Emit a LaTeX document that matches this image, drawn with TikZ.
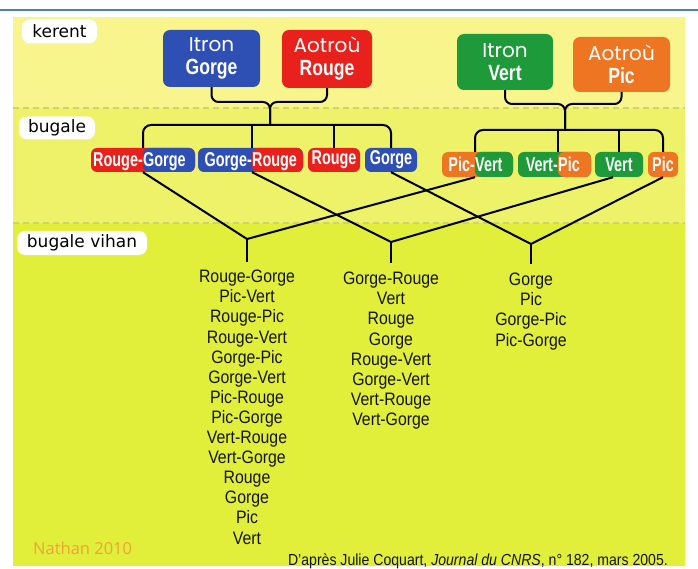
\documentclass[tikz,border=0pt]{standalone}
\usepackage{fontspec}
\setmainfont{Liberation Sans}
\newfontfamily\condfont[FakeStretch=0.88]{Liberation Sans}
\newfontfamily\condbold[FakeStretch=0.72]{Liberation Sans Bold}
\newfontfamily\parbold[FakeStretch=0.8]{Liberation Sans Bold}
\newfontfamily\labfont{DejaVu Sans}
\newfontfamily\geofont{Poppins}
\newfontfamily\credfont{Open Sans}
\definecolor{cblue}{HTML}{2E50B4}
\definecolor{cred}{HTML}{E8211C}
\definecolor{cgreen}{HTML}{1F9A3A}
\definecolor{corange}{HTML}{EE7522}
\definecolor{ztop}{HTML}{F7F58C}
\definecolor{zmid}{HTML}{EDF268}
\definecolor{zbot}{HTML}{E1EE3A}
\definecolor{zdash}{HTML}{CDD46A}
\definecolor{toprule}{HTML}{4A7EBE}
\definecolor{nathan}{HTML}{EFA23A}
\newcommand\PTop[1]{{\geofont\fontsize{20}{23}\selectfont #1}}
\newcommand\PBot[1]{{\parbold\fontsize{22}{23}\selectfont #1}}
\tikzset{
  conn/.style={line width=2pt, black},
  parentbox/.style={rounded corners=7pt, text=white, align=center, inner sep=0pt,
    font=\fontsize{22}{23}\selectfont},
  childbox/.style={rounded corners=6pt, inner sep=0pt, text=white,
    font=\condbold\fontsize{20}{20}\selectfont},
  ctext/.style={inner sep=0pt, text=white, font=\condbold\fontsize{20}{20}\selectfont},
  twotone/.style n args={3}{fill=#1, path picture={\fill[#2] ([xshift=#3]path picture bounding box.south west) rectangle (path picture bounding box.north east);}},
  zonelabel/.style={fill=white, rounded corners=8pt, inner sep=0pt, text=black,
    font=\labfont\fontsize{17}{20}\selectfont},
  listtext/.style={inner sep=0pt, align=center, text=black!92,
    font=\condfont\fontsize{18}{20.1}\selectfont},
  zdashline/.style={zdash, line width=1.2pt, dash pattern=on 6pt off 4pt}
}
\begin{document}
\begin{tikzpicture}[x=1pt,y=-1pt]
\useasboundingbox (0,0) rectangle (698,569);
\fill[white] (0,0) rectangle (698,569);
% rule and panel
\draw[toprule, line width=2pt] (0,10) -- (698,10);
\fill[ztop] (13,17) rectangle (685,108);
\fill[zmid] (13,108) rectangle (685,223);
\fill[zbot] (13,223) rectangle (685,566);
\draw[zdashline] (13,108) -- (685,108);
\draw[zdashline] (13,223) -- (685,223);
% zone labels
\node[zonelabel, minimum width=75pt, minimum height=24pt] (kerent) at (59.5,31.5) {kerent};
\node[zonelabel, minimum width=76pt, minimum height=23pt] (bugale) at (57,128) {bugale};
\node[zonelabel, minimum width=130pt, minimum height=24pt] (vihan) at (82,243) {bugale vihan};
% parents
\node[parentbox, fill=cblue, minimum width=97pt, minimum height=57pt] (pG) at (211.5,58.5) {\PTop{Itron}\\\PBot{Gorge}};
\node[parentbox, fill=cred, minimum width=90pt, minimum height=58pt] (pR) at (327,59) {\PTop{Aotroù}\\\PBot{Rouge}};
\node[parentbox, fill=cgreen, minimum width=96pt, minimum height=56pt] (pV) at (505,62) {\PTop{Itron}\\\PBot{Vert}};
\node[parentbox, fill=corange, minimum width=97pt, minimum height=55pt] (pP) at (621.5,64.5) {\PTop{Aotroù}\\\PBot{Pic}};
% children, left family
\node[childbox, twotone={cred}{cblue}{52pt}, minimum width=104pt, minimum height=24pt] (cRG) at (143,160) {};
\coordinate (sRG) at (143,160);
\node[ctext, anchor=base east] (cRGa) at (143,167) {Rouge-};
\node[ctext, anchor=base west] (cRGb) at (143,167) {Gorge};
\node[childbox, twotone={cblue}{cred}{54pt}, minimum width=105pt, minimum height=24pt] (cGR) at (250.5,160) {};
\coordinate (sGR) at (252,160);
\node[ctext, anchor=base east] (cGRa) at (252,167) {Gorge-};
\node[ctext, anchor=base west] (cGRb) at (252,167) {Rouge};
\node[childbox, fill=cred, minimum width=52pt, minimum height=24pt] (cR) at (334,160) {Rouge};
\node[childbox, fill=cblue, minimum width=52pt, minimum height=24pt] (cG) at (391,160) {Gorge};
% children, right family
\node[childbox, twotone={corange}{cgreen}{33pt}, minimum width=71pt, minimum height=25pt] (cPV) at (477.5,164.5) {};
\coordinate (sPV) at (475,164.5);
\node[ctext, anchor=base east] (cPVa) at (475,171.5) {Pic-};
\node[ctext, anchor=base west] (cPVb) at (475,171.5) {Vert};
\node[childbox, twotone={cgreen}{corange}{40pt}, minimum width=73pt, minimum height=25pt] (cVP) at (554.5,164.5) {};
\coordinate (sVP) at (558,164.5);
\node[ctext, anchor=base east] (cVPa) at (558,171.5) {Vert-};
\node[ctext, anchor=base west] (cVPb) at (558,171.5) {Pic};
\node[childbox, fill=cgreen, minimum width=48pt, minimum height=25pt] (cV) at (619,164.5) {Vert};
\node[childbox, fill=corange, minimum width=30pt, minimum height=25pt] (cP) at (663,164.5) {Pic};
% parent brackets
\coordinate (jG) at (270,102);
\coordinate (kG) at (270,125);
\draw[conn, rounded corners=7pt] (pG.south) |- (jG) -- (kG);
\draw[conn, rounded corners=7pt] (pR.south) |- (jG) -- (kG);
\draw[conn, rounded corners=8pt] (sRG |- cRG.north) |- (kG) -| (cG.north);
\draw[conn] (sGR |- kG) -- (sGR |- cGR.north);
\draw[conn] (cR.north |- kG) -- (cR.north);
\coordinate (jV) at (565,104);
\coordinate (kV) at (565,130);
\draw[conn, rounded corners=7pt] (pV.south) |- (jV) -- (kV);
\draw[conn, rounded corners=7pt] (pP.south) |- (jV) -- (kV);
\draw[conn, rounded corners=8pt] (sPV |- cPV.north) |- (kV) -| (cP.north);
\draw[conn] (sVP |- kV) -- (sVP |- cVP.north);
\draw[conn] (cV.north |- kV) -- (cV.north);
% offspring groups
\coordinate (g1) at (247,239);
\coordinate (g1b) at (247,262);
\coordinate (g2) at (391,242);
\coordinate (g2b) at (391,263);
\coordinate (g3) at (531,244);
\coordinate (g3b) at (531,264);
\draw[conn] (sRG |- cRG.south) -- (g1) -- (sPV |- cPV.south);
\draw[conn] (g1) -- (g1b);
\draw[conn] (sGR |- cGR.south) -- (g2) -- ([xshift=-6pt]cV.south);
\draw[conn] (g2) -- (g2b);
\draw[conn] (cG.south) -- (g3) -- (cP.south);
\draw[conn] (g3) -- (g3b);
\node[listtext, anchor=north] (L1) at (g1b |- 0,270) {Rouge-Gorge\\Pic-Vert\\Rouge-Pic\\Rouge-Vert\\Gorge-Pic\\Gorge-Vert\\Pic-Rouge\\Pic-Gorge\\Vert-Rouge\\Vert-Gorge\\Rouge\\Gorge\\Pic\\Vert};
\node[listtext, anchor=north] (L2) at (g2b |- 0,272) {Gorge-Rouge\\Vert\\Rouge\\Gorge\\Rouge-Vert\\Gorge-Vert\\Vert-Rouge\\Vert-Gorge};
\node[listtext, anchor=north] (L3) at (g3b |- 0,273) {Gorge\\Pic\\Gorge-Pic\\Pic-Gorge};
% credits
\node[anchor=base west, inner sep=0pt, text=nathan, font=\credfont\fontsize{16.5}{18}\selectfont] (nathan) at (33,554) {Nathan 2010};
\node[anchor=base east, inner sep=0pt, text=black!92, font=\condfont\fontsize{16}{18}\selectfont] (cite) at (668,565) {D’après Julie Coquart, \textit{Journal du CNRS}, n° 182, mars 2005.};
\end{tikzpicture}
\end{document}
